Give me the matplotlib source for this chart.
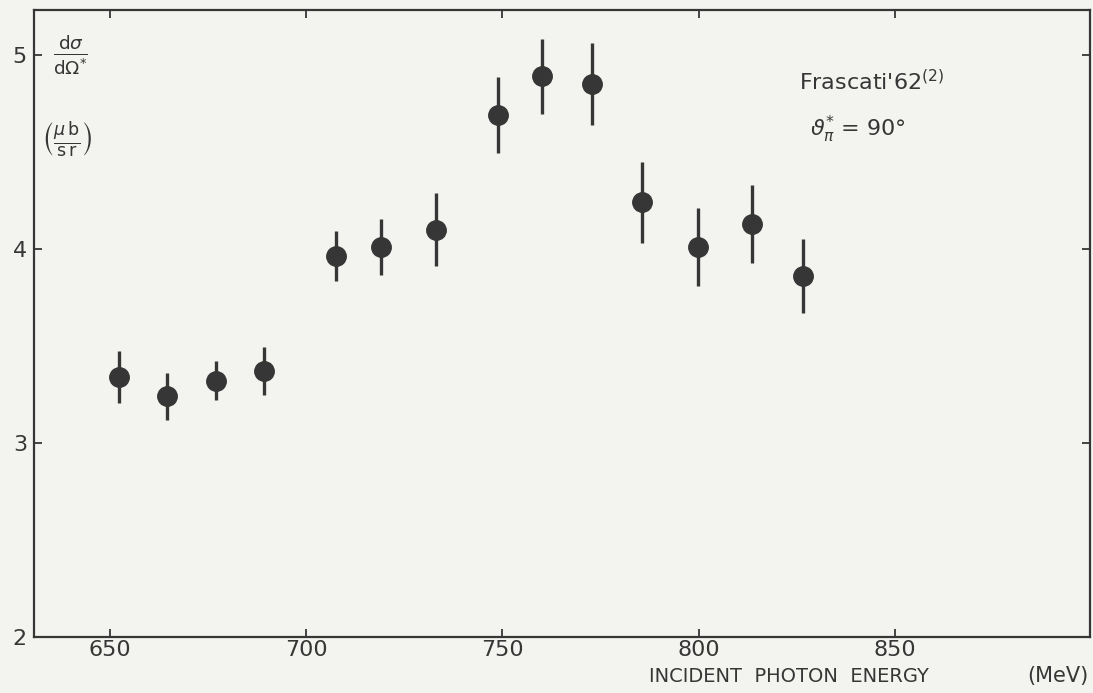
"""Frascati '62 pi-photoproduction cross section at 90 deg (scanned figure)."""

import matplotlib

matplotlib.use("Agg")
import matplotlib.pyplot as plt

# photon energy (MeV), d sigma / d Omega* (ub/sr), symmetric errors
energy = [652.5, 664.5, 677.2, 689.2, 707.6, 719.2, 733.0, 749.0, 760.2, 772.9, 785.6, 799.9, 813.6, 826.6]
xsec = [3.34, 3.24, 3.32, 3.37, 3.965, 4.01, 4.10, 4.69, 4.89, 4.85, 4.24, 4.01, 4.13, 3.86]
err = [0.135, 0.12, 0.10, 0.125, 0.13, 0.145, 0.19, 0.195, 0.195, 0.21, 0.21, 0.20, 0.20, 0.19]

x_ticks = [650, 700, 750, 800, 850]
y_ticks = [2, 3, 4, 5]

INK = "#363636"
PAPER = "#f3f3f0"

plt.rcParams["mathtext.fontset"] = "dejavusans"

fig = plt.figure(figsize=(10.93, 6.93), dpi=100, facecolor=PAPER)
ax = fig.add_axes([0.031, 0.081, 0.966, 0.905], facecolor=PAPER)

ax.errorbar(energy, xsec, yerr=err, fmt="o", color=INK, ecolor=INK,
            markersize=14, elinewidth=2.4, capsize=0, zorder=3)

ax.set_xlim(630.7, 899.6)
ax.set_ylim(2.0, 5.234)
ax.set_xticks(x_ticks)
ax.set_yticks(y_ticks)
ax.tick_params(direction="in", length=6, width=1.3, colors=INK, labelsize=16,
               top=True, right=True)
ax.tick_params(axis="x", pad=2)
ax.tick_params(axis="y", pad=5)
for s in ax.spines.values():
    s.set_color(INK)
    s.set_linewidth(1.6)

# y-axis quantity and unit, written inside the frame
ax.text(0.035, 0.927, r"$\frac{\mathrm{d}\sigma}{\mathrm{d}\Omega^{*}}$", transform=ax.transAxes,
        fontsize=19, color=INK, ha="center", va="center")
ax.text(0.031, 0.793, r"$\left(\frac{\mu\,\mathrm{b}}{\mathrm{s\,r}}\right)$", transform=ax.transAxes,
        fontsize=18, color=INK, ha="center", va="center")

ax.text(0.793, 0.885, r"Frascati'62$^{(2)}$", transform=ax.transAxes,
        fontsize=16, color=INK, ha="center", va="center")
ax.text(0.78, 0.809, r"$\vartheta^{*}_{\pi}$ = 90°", transform=ax.transAxes,
        fontsize=16, color=INK, ha="center", va="center")

fig.text(0.594, 0.024, "INCIDENT  PHOTON  ENERGY", fontsize=14, color=INK, ha="left", va="center")
fig.text(0.996, 0.024, "(MeV)", fontsize=15, color=INK, ha="right", va="center")

fig.savefig("out.png", dpi=100, facecolor=PAPER)
